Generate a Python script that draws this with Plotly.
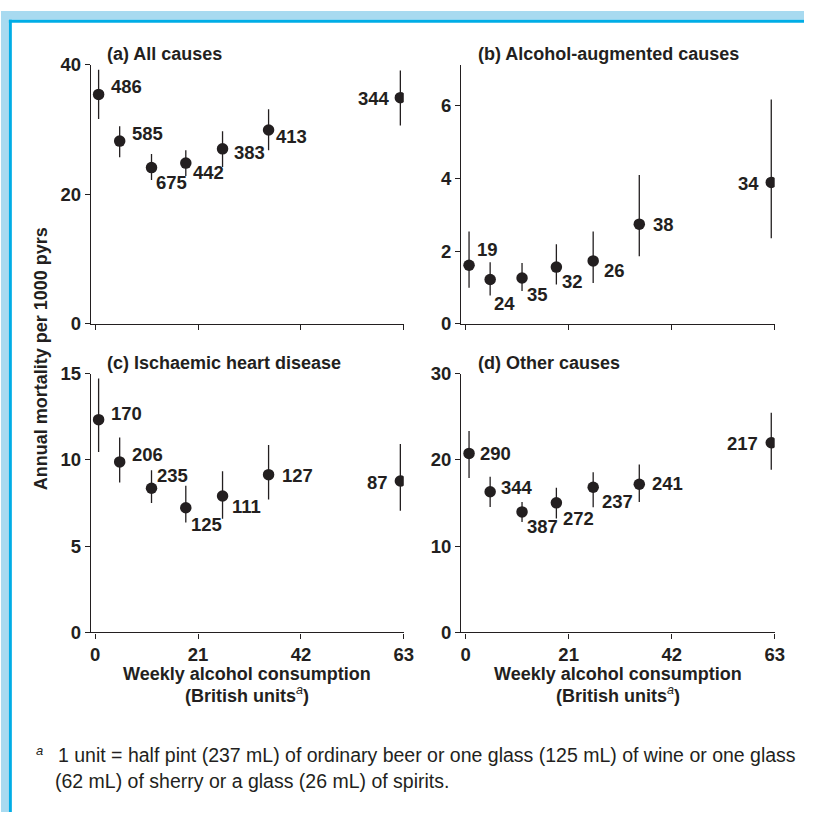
import plotly.graph_objects as go

W, H = 814, 822

# ---------------- data ----------------
x_units = [0.7, 5.0, 11.5, 18.5, 26.0, 35.4, 62.3]

a_mean = [35.4, 28.2, 24.1, 24.8, 27.0, 29.9, 34.9]
a_upper = [39.2, 30.5, 26.2, 26.8, 29.7, 33.1, 39.1]
a_lower = [31.6, 25.7, 22.2, 22.8, 24.2, 26.8, 30.6]
a_n = ["486", "585", "675", "442", "383", "413", "344"]

b_mean = [1.61, 1.22, 1.26, 1.56, 1.73, 2.74, 3.89]
b_upper = [2.54, 1.69, 1.67, 2.19, 2.54, 4.09, 6.17]
b_lower = [0.99, 0.78, 0.90, 1.08, 1.12, 1.86, 2.35]
b_n = ["19", "24", "35", "32", "26", "38", "34"]

c_mean = [12.34, 9.89, 8.36, 7.23, 7.91, 9.15, 8.78]
c_upper = [14.73, 11.30, 9.40, 8.51, 9.35, 10.87, 10.93]
c_lower = [10.47, 8.70, 7.50, 6.37, 6.59, 7.71, 7.06]
c_n = ["170", "206", "235", "125", "111", "127", "87"]

d_mean = [20.76, 16.32, 13.98, 15.03, 16.84, 17.18, 22.0]
d_upper = [23.36, 18.05, 15.14, 16.77, 18.58, 19.48, 25.47]
d_lower = [17.90, 14.54, 12.81, 13.22, 14.51, 15.14, 18.87]
d_n = ["290", "344", "387", "272", "237", "241", "217"]

panel_titles = ["(a) All causes", "(b) Alcohol-augmented causes",
                "(c) Ischaemic heart disease", "(d) Other causes"]
y_ranges = [[0, 40], [0, 7.13], [0, 15], [0, 30]]
y_ticks = [[0, 20, 40], [0, 2, 4, 6], [0, 5, 10, 15], [0, 10, 20, 30]]
x_ticks = [0, 21, 42, 63]

y_title = "Annual mortality per 1000 pyrs"
x_title_1 = "Weekly alcohol consumption"
x_title_2 = "<b>(British units</b><sup><i>a</i></sup><b>)</b>"
footnote_mark = "<i>a</i>"
footnote_1 = "1 unit = half pint (237 mL) of ordinary beer or one glass (125 mL) of wine or one glass"
footnote_2 = "(62 mL) of sherry or a glass (26 mL) of spirits."

# ---------------- label placement (pixel offsets: dx, dy, side) -------------
a_off = [(10.6, -8, "l"), (10.7, -8, "l"), (2, 15, "l"), (5.4, 9.7, "l"),
         (9, 4, "l"), (5, 6.7, "l"), (-8.3, 1.3, "r")]
b_off = [(5.7, -16, "l"), (1.4, 23.7, "l"), (3.4, 17, "l"), (4, 14, "l"),
         (8.7, 9.4, "l"), (11.7, 0, "l"), (-10.3, 1, "r")]
c_off = [(10.6, -6, "l"), (10.7, -7.4, "l"), (3.7, -13, "l"), (3.4, 17, "l"),
         (7, 10.6, "l"), (11.4, 1, "l"), (-10, 1.4, "r")]
d_off = [(9.3, 0, "l"), (9, -4.6, "l"), (3.4, 15, "l"), (5, 15.3, "l"),
         (6.4, 14, "l"), (10.7, -1, "l"), (-11.3, 1, "r")]

# ---------------- styling ----------------
INK = "#231f20"
FONT = "Liberation Sans"
FS = 18
FS_NUM = 18.5

def px_x(p):
    return p / W

def px_y(p):
    return 1 - p / H

# panel pixel boxes: (left, right, top, bottom)
boxes = [(91, 408.3, 55, 321), (466.5, 784.3, 55, 321),
         (91, 408.3, 372.3, 637.7), (466.5, 784.3, 372.3, 637.7)]

fig = go.Figure()

panels = [
    (a_mean, a_upper, a_lower, a_n, a_off),
    (b_mean, b_upper, b_lower, b_n, b_off),
    (c_mean, c_upper, c_lower, c_n, c_off),
    (d_mean, d_upper, d_lower, d_n, d_off),
]

annotations = []
layout_axes = {}
for i, (mean, up, lo, labels, offs) in enumerate(panels):
    k = "" if i == 0 else str(i + 1)
    xa, ya = "x" + k, "y" + k
    fig.add_trace(go.Scatter(
        x=x_units, y=mean, xaxis=xa, yaxis=ya, mode="markers",
        marker=dict(size=11.5, color=INK),
        error_y=dict(type="data", symmetric=False,
                     array=[u - m for u, m in zip(up, mean)],
                     arrayminus=[m - l for m, l in zip(mean, lo)],
                     width=0, thickness=1.3, color=INK),
        showlegend=False, hoverinfo="skip"))
    l, r, t, b = boxes[i]
    bottom_row = i >= 2
    layout_axes["xaxis" + k] = dict(
        domain=[px_x(l), px_x(r)], anchor=ya, range=[-0.9, 63],
        tickvals=x_ticks, ticktext=[str(v) for v in x_ticks],
        showticklabels=bottom_row, ticks="outside", ticklen=5, tickwidth=1.2,
        tickcolor=INK, showline=True, linecolor=INK, linewidth=1.2,
        showgrid=False, zeroline=False,
        tickfont=dict(family=FONT, size=FS_NUM, color=INK, weight="bold"))
    layout_axes["yaxis" + k] = dict(
        domain=[px_y(b), px_y(t)], anchor=xa, range=y_ranges[i],
        tickvals=y_ticks[i], ticks="outside", ticklen=5, tickwidth=1.2,
        tickcolor=INK, showline=True, linecolor=INK, linewidth=1.2,
        showgrid=False, zeroline=False,
        tickfont=dict(family=FONT, size=FS_NUM, color=INK, weight="bold"))
    for xv, yv, lab, (dx, dy, side) in zip(x_units, mean, labels, offs):
        annotations.append(dict(
            x=xv, y=yv, xref=xa, yref=ya, text=lab, showarrow=False,
            xanchor="left" if side == "l" else "right", yanchor="middle",
            xshift=dx, yshift=-dy,
            font=dict(family=FONT, size=FS_NUM, color=INK, weight="bold")))
    # panel title
    annotations.append(dict(
        x=px_x(105 if i % 2 == 0 else 481), y=px_y(44.3 if i < 2 else 361),
        xref="paper", yref="paper", text="<b>" + panel_titles[i] + "</b>",
        showarrow=False, xanchor="left", yanchor="middle",
        font=dict(family=FONT, size=FS, color=INK)))

# axis titles
annotations.append(dict(
    x=px_x(40), y=px_y(357), xref="paper", yref="paper",
    text="<b>" + y_title + "</b>", textangle=-90, showarrow=False,
    xanchor="center", yanchor="middle",
    font=dict(family=FONT, size=FS, color=INK)))
for cx in [249.7, 625.4]:
    annotations.append(dict(
        x=px_x(cx), y=px_y(680), xref="paper", yref="paper",
        text="<b>" + x_title_1 + "</b>", showarrow=False,
        xanchor="center", yanchor="middle",
        font=dict(family=FONT, size=FS, color=INK)))
    annotations.append(dict(
        x=px_x(cx), y=px_y(701), xref="paper", yref="paper",
        text=x_title_2, showarrow=False,
        xanchor="center", yanchor="middle",
        font=dict(family=FONT, size=FS, color=INK)))

# footnote
annotations.append(dict(
    x=px_x(33), y=px_y(759), xref="paper", yref="paper", text=footnote_mark,
    showarrow=False, xanchor="left", yanchor="middle",
    font=dict(family=FONT, size=13, color=INK)))
annotations.append(dict(
    x=px_x(56), y=px_y(764), xref="paper", yref="paper", text=footnote_1,
    showarrow=False, xanchor="left", yanchor="middle",
    font=dict(family=FONT, size=19.5, color=INK)))
annotations.append(dict(
    x=px_x(53), y=px_y(790), xref="paper", yref="paper", text=footnote_2,
    showarrow=False, xanchor="left", yanchor="middle",
    font=dict(family=FONT, size=19.5, color=INK)))

LIGHT = "#a8daf0"
DARK = "#00ade6"
shapes = [
    dict(type="rect", xref="paper", yref="paper", x0=0, x1=1, y0=px_y(9), y1=1,
         fillcolor=LIGHT, line=dict(width=0), layer="above"),
    dict(type="rect", xref="paper", yref="paper", x0=0, x1=px_x(8), y0=0, y1=1,
         fillcolor=LIGHT, line=dict(width=0), layer="above"),
    dict(type="rect", xref="paper", yref="paper", x0=px_x(8), x1=1,
         y0=px_y(12), y1=px_y(9), fillcolor=DARK, line=dict(width=0), layer="above"),
    dict(type="rect", xref="paper", yref="paper", x0=px_x(8), x1=px_x(11),
         y0=0, y1=px_y(9), fillcolor=DARK, line=dict(width=0), layer="above"),
]

fig.update_layout(
    width=W, height=H, margin=dict(l=0, r=0, t=0, b=0),
    paper_bgcolor="white", plot_bgcolor="white",
    annotations=annotations, shapes=shapes,
    font=dict(family=FONT, color=INK), **layout_axes)

fig.write_html("out.html", config={"displayModeBar": False},
               post_script="document.body.style.margin='0';"
                           "document.body.style.overflow='hidden';")
